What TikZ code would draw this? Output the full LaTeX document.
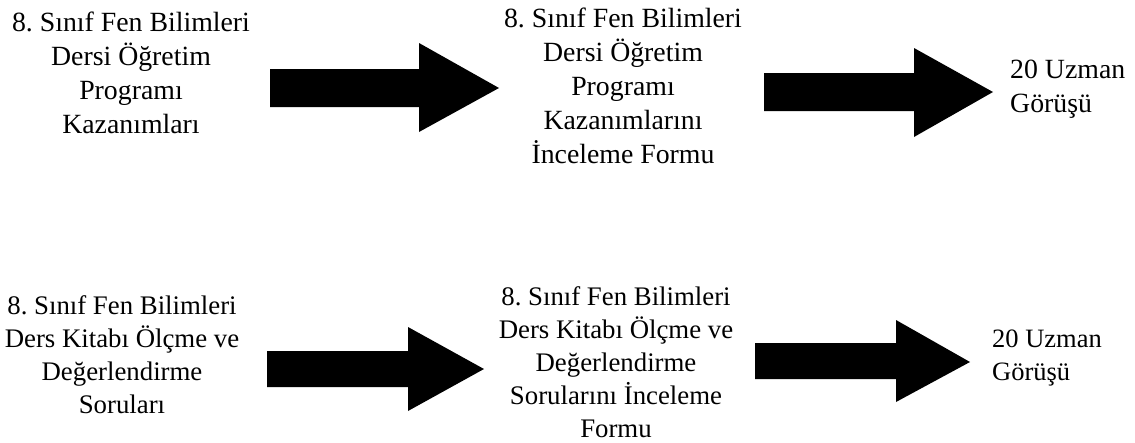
\documentclass[tikz,border=0pt]{standalone}
\usepackage{fontspec}
\setmainfont{Liberation Serif}
\frenchspacing
\begin{document}
\begin{tikzpicture}[x=1pt,y=-1pt,
  blockarrow/.style={fill=black,draw=none},
  lbltop/.style={inner sep=0pt,anchor=base,align=center,font=\fontsize{27.8}{33.8}\selectfont},
  lblbot/.style={inner sep=0pt,anchor=base,align=center,font=\fontsize{26.8}{33}\selectfont},
  lblside/.style={inner sep=0pt,anchor=base west,align=left}]
\useasboundingbox (0,0) rectangle (1135,442);
% arrows
\fill[blockarrow] (270,69) -- (419,69) -- (419,43) -- (499,88) -- (419,132) -- (419,107) -- (270,107) -- cycle;
\fill[blockarrow] (764,73) -- (914,73) -- (914,48) -- (993,92) -- (914,137) -- (914,111) -- (764,111) -- cycle;
\fill[blockarrow] (267,351) -- (408,351) -- (408,327) -- (484,369) -- (408,411) -- (408,387) -- (267,387) -- cycle;
\fill[blockarrow] (755,343) -- (896,343) -- (896,320) -- (970,362) -- (896,402) -- (896,379) -- (755,379) -- cycle;
% texts (anchor = baseline of the last line)
\node[lbltop] (a1) at (131,133) {8. Sınıf Fen Bilimleri\\Dersi Öğretim\\Programı\\Kazanımları};
\node[lbltop] (a2) at (623,163) {8. Sınıf Fen Bilimleri\\Dersi Öğretim\\Programı\\Kazanımlarını\\İnceleme Formu};
\node[lblside,font=\fontsize{27.8}{34}\selectfont] (a3) at (1010,112) {20 Uzman\\Görüşü};
\node[lblbot] (b1) at (122,413) {8. Sınıf Fen Bilimleri\\Ders Kitabı Ölçme ve\\Değerlendirme\\Soruları};
\node[lblbot] (b2) at (616,437) {8. Sınıf Fen Bilimleri\\Ders Kitabı Ölçme ve\\Değerlendirme\\Sorularını İnceleme\\Formu};
\node[lblside,font=\fontsize{26.5}{33}\selectfont] (b3) at (992,380) {20 Uzman\\Görüşü};
\end{tikzpicture}
\end{document}
